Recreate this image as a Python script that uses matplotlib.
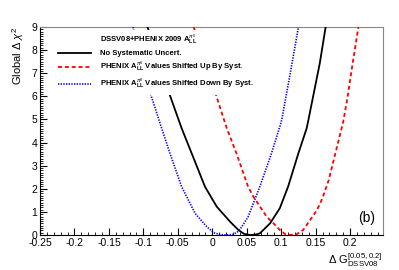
import matplotlib
matplotlib.use('Agg')
import matplotlib.pyplot as plt
from matplotlib.lines import Line2D
from matplotlib.ticker import MultipleLocator

plt.rcParams['font.family'] = ['Liberation Sans', 'DejaVu Sans']
plt.rcParams['mathtext.fontset'] = 'custom'
plt.rcParams['mathtext.rm'] = 'Liberation Sans'
plt.rcParams['mathtext.it'] = 'Liberation Sans:italic'
plt.rcParams['mathtext.bf'] = 'Liberation Sans:bold'

# Scan of global delta chi2 vs Delta G
x_nominal = [-0.094, -0.066, -0.0445, -0.030, -0.0106, 0.0064, 0.0257, 0.0378,
             0.046, 0.055, 0.063, 0.069, 0.084, 0.098, 0.110, 0.125, 0.137, 0.1395,
             0.156, 0.1645]
y_nominal = [9.0, 6.42, 4.62, 3.54, 2.09, 1.23, 0.58, 0.22,
             0.05, 0.0, 0.02, 0.07, 0.51, 1.16, 2.09, 3.54, 4.62, 4.98,
             7.43, 9.0]

x_up = [-0.027, 0.0015, 0.021, 0.035, 0.052, 0.0596, 0.079, 0.089,
        0.098, 0.106, 0.113, 0.122, 0.132, 0.152, 0.160, 0.169, 0.181, 0.190,
        0.196, 0.202, 0.212]
y_up = [9.0, 6.42, 4.62, 3.54, 2.09, 1.66, 0.79, 0.50,
        0.22, 0.03, 0.0, 0.03, 0.22, 1.08, 1.60, 2.38, 3.82, 4.90,
        5.90, 7.10, 9.0]

x_down = [-0.115, -0.093, -0.0735, -0.0615, -0.0445, -0.025, -0.0081, 0.002,
          0.011, 0.020, 0.030, 0.036, 0.043, 0.052, 0.069, 0.086, 0.098, 0.1008,
          0.114, 0.125]
y_down = [9.0, 6.42, 4.62, 3.54, 2.09, 0.94, 0.36, 0.10,
          0.02, 0.0, 0.02, 0.12, 0.36, 0.79, 2.09, 3.54, 4.69, 4.98,
          7.14, 9.0]

x_ticks = [-0.25, -0.2, -0.15, -0.1, -0.05, 0, 0.05, 0.1, 0.15, 0.2]
x_tick_labels = ['-0.25', '-0.2', '-0.15', '-0.1', '-0.05', '0', '0.05', '0.1', '0.15', '0.2']
y_ticks = list(range(0, 10))

fig = plt.figure(figsize=(3.99, 2.70), dpi=100)
ax = fig.add_axes([0.1003, 0.1296, 0.8597, 0.7704])

ax.plot(x_nominal, y_nominal, color='black', lw=1.3, zorder=3)
ax.plot(x_up, y_up, color='#ff0000', lw=1.3, ls=(0, (2.2, 1.6)), zorder=3)
ax.plot(x_down, y_down, color='#0000ff', lw=1.2, ls=(0, (0.8, 0.8)), zorder=3)

ax.set_xlim(-0.25, 0.2478)
ax.set_ylim(0, 9)
ax.set_xticks(x_ticks)
ax.set_xticklabels(x_tick_labels)
ax.set_yticks(y_ticks)
ax.xaxis.set_minor_locator(MultipleLocator(0.01))
ax.yaxis.set_minor_locator(MultipleLocator(0.1))
ax.tick_params(which='both', direction='in', top=False, right=False, labelsize=7.5)
ax.tick_params(which='major', length=5, width=0.8)
ax.tick_params(which='minor', length=2.5, width=0.6)
ax.tick_params(axis='x', pad=2)
ax.tick_params(axis='y', pad=2)

for side in ['top', 'right']:
    ax.spines[side].set_color('#888888')
for side in ['left', 'bottom']:
    ax.spines[side].set_color('black')

ax.set_ylabel(r'Global $\Delta$ $\chi^{2}$', loc='top', fontsize=8, labelpad=4)
ax.set_xlabel(r'$\Delta$ G$_{\rm DSSV08}^{[0.05,0.2]}$', loc='right', fontsize=8, labelpad=2)

ax.text(0.977, 0.082, '(b)', transform=ax.transAxes, fontsize=10, ha='right', va='center')

# Legend with header line as first entry
handles = [Line2D([], [], color='none'),
           Line2D([], [], color='black', lw=1.3),
           Line2D([], [], color='#ff0000', lw=1.3, ls=(0, (2.2, 1.6))),
           Line2D([], [], color='#0000ff', lw=1.2, ls=(0, (0.8, 0.8)))]
labels = [r'DSSV08+PHENIX 2009 $\mathbf{A}_{\mathbf{LL}}^{\pi^{0}}$',
          'No Systematic Uncert.',
          r'PHENIX $\mathbf{A}_{\mathbf{LL}}^{\pi^{0}}$ Values Shifted Up By Syst.',
          r'PHENIX $\mathbf{A}_{\mathbf{LL}}^{\pi^{0}}$ Values Shifted Down By Syst.']
leg = ax.legend(handles, labels, loc='upper left', bbox_to_anchor=(0.044, 0.986),
                prop={'size': 5.5, 'weight': 'bold'}, frameon=True, framealpha=1,
                edgecolor='none', facecolor='white', fancybox=False,
                handlelength=4.3, handletextpad=1.2, labelspacing=0.36,
                borderpad=0.4, borderaxespad=0)
leg.set_zorder(5)

fig.savefig('out.png', dpi=100)
